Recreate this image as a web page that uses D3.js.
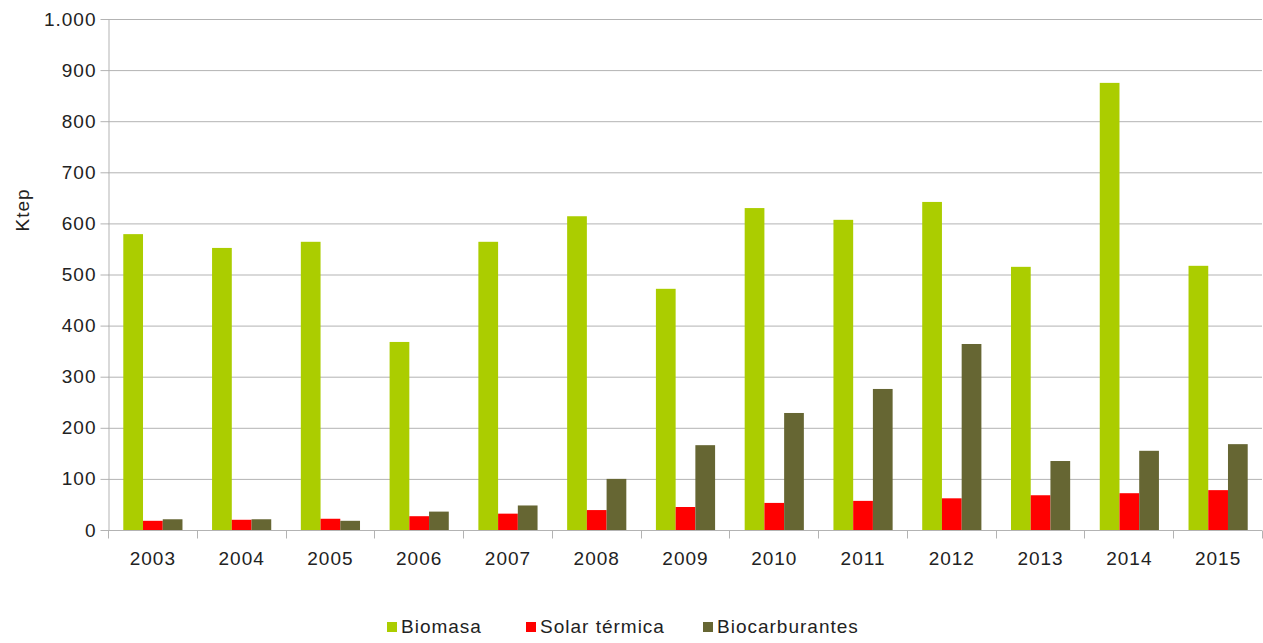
<!DOCTYPE html>
<html>
<head>
<meta charset="utf-8">
<script src="https://cdn.jsdelivr.net/npm/d3@7"></script>
<style>
  body { margin: 0; background: #fff; }
  svg { display: block; font-family: "Liberation Sans", Arial, sans-serif; }
  text { letter-spacing: 1px; }
</style>
</head>
<body>
<svg id="chart" width="1263" height="643"></svg>
<script>
// Renewable energy production by year (ktep)
const years = ["2003","2004","2005","2006","2007","2008","2009","2010","2011","2012","2013","2014","2015"];
const biomasa = [579, 552, 564, 368, 564, 614, 472, 630, 607, 642, 515, 875, 517];
const solarTermica = [18, 20, 22, 27, 32, 39, 45, 53, 57, 62, 68, 72, 78];
const biocarburantes = [21, 21, 18, 36, 48, 100, 166, 229, 276, 364, 135, 155, 168];
const seriesNames = ["Biomasa", "Solar térmica", "Biocarburantes"];
const seriesColors = ["#abcd00", "#ff0000", "#666633"];
const yTicks = [0, 100, 200, 300, 400, 500, 600, 700, 800, 900, 1000];

const seriesValues = [biomasa, solarTermica, biocarburantes];
const svg = d3.select("#chart");
const m = { left: 108, right: 1262, top: 19, bottom: 530 };
const fontSize = 19;
const textColor = "#222";

const x0 = d3.scaleBand().domain(years).range([m.left, m.right]).padding(0);
const x1 = d3.scaleBand().domain(d3.range(seriesNames.length))
  .range([x0.bandwidth() / 6 + 0.5, x0.bandwidth() * 5 / 6 + 0.5]).padding(0);
const y = d3.scaleLinear().domain([0, 1000]).range([m.bottom, m.top]);

const fmt = v => d3.format(",")(v).replace(/,/g, ".");

// horizontal grid
svg.append("g").selectAll("line").data(yTicks.filter(t => t > 0)).join("line")
  .attr("x1", m.left).attr("x2", m.right)
  .attr("y1", d => y(d) + 0.5).attr("y2", d => y(d) + 0.5)
  .attr("stroke", "#b3b3b3").attr("stroke-width", 1);

// bars
const groups = svg.append("g").selectAll("g").data(years).join("g")
  .attr("transform", d => `translate(${x0(d)},0)`);
groups.selectAll("rect")
  .data((d, i) => seriesValues.map((vals, s) => ({ s, v: vals[i] })))
  .join("rect")
  .attr("x", d => x1(d.s))
  .attr("width", x1.bandwidth())
  .attr("y", d => y(d.v))
  .attr("height", d => y(0) - y(d.v))
  .attr("fill", d => seriesColors[d.s]);

// y axis
const yAxis = d3.axisLeft(y).tickValues(yTicks).tickSize(8).tickSizeOuter(0).tickPadding(4).tickFormat(fmt);
const gy = svg.append("g").attr("transform", `translate(${m.left + 0.5},0)`).call(yAxis);
gy.select(".domain").attr("stroke", "#b3b3b3");
gy.selectAll(".tick line").attr("stroke", "#b3b3b3");
gy.selectAll(".tick text").attr("font-size", fontSize).attr("fill", textColor)
  .attr("font-family", "Liberation Sans, Arial, sans-serif");

// x axis with tick marks at category boundaries
const gx = svg.append("g").attr("transform", `translate(0,${m.bottom + 0.5})`);
gx.append("line").attr("x1", m.left).attr("x2", m.right).attr("stroke", "#b3b3b3");
const bounds = years.map(d => x0(d)).concat([m.right]);
gx.selectAll("line.tk").data(bounds).join("line").attr("class", "tk")
  .attr("x1", d => Math.round(d) + 0.5).attr("x2", d => Math.round(d) + 0.5)
  .attr("y1", 0).attr("y2", 8).attr("stroke", "#b3b3b3");
gx.selectAll("text").data(years).join("text")
  .attr("x", d => x0(d) + x0.bandwidth() / 2 + 0.5)
  .attr("y", 34)
  .attr("text-anchor", "middle")
  .attr("font-size", fontSize).attr("fill", textColor)
  .text(d => d);

// y axis title
svg.append("text")
  .attr("transform", "translate(29,210) rotate(-90)")
  .attr("text-anchor", "middle")
  .attr("font-size", fontSize).attr("fill", textColor)
  .text("Ktep");

// legend
const legendX = [387, 526, 703];
const lg = svg.append("g").selectAll("g").data(seriesNames).join("g")
  .attr("transform", (d, i) => `translate(${legendX[i]},622)`);
lg.append("rect").attr("width", 10).attr("height", 10).attr("fill", (d, i) => seriesColors[i]);
lg.append("text").attr("x", 14).attr("y", 11).attr("font-size", fontSize).attr("fill", textColor).text(d => d);
</script>
</body>
</html>
